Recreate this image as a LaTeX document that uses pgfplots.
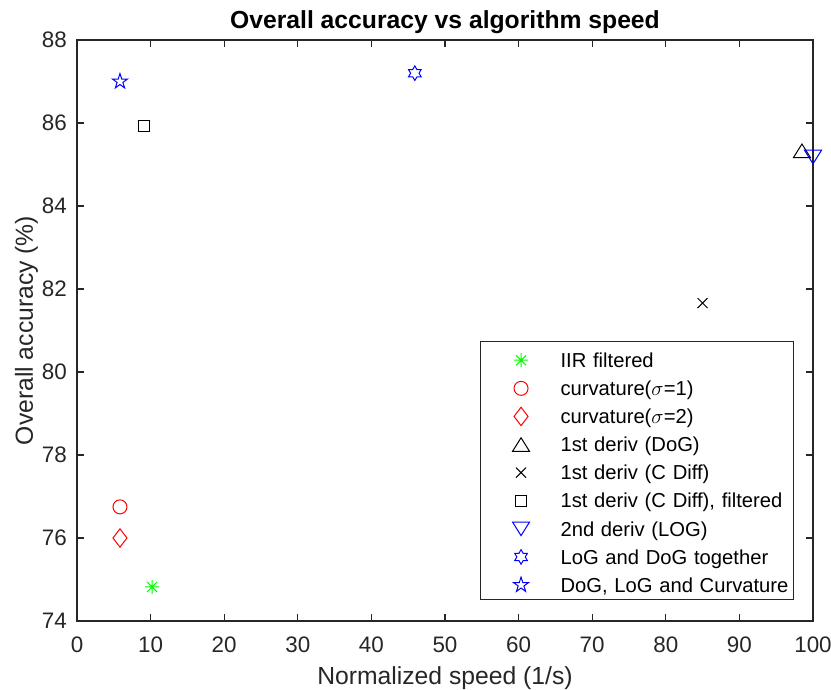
\documentclass[border=0pt]{standalone}
\usepackage{pgfplots}
\pgfplotsset{compat=1.18}
\usepackage{fontspec}
\setmainfont{Liberation Sans}
\definecolor{axgray}{rgb}{0.15,0.15,0.15}
\definecolor{mgreen}{rgb}{0,1,0}
\definecolor{mred}{rgb}{1,0,0}
\definecolor{mblue}{rgb}{0,0,1}

\pgfdeclareplotmark{mast}{%
 \pgfpathmoveto{\pgfqpoint{-7pt}{0pt}}\pgfpathlineto{\pgfqpoint{7pt}{0pt}}%
 \pgfpathmoveto{\pgfqpoint{0pt}{-7pt}}\pgfpathlineto{\pgfqpoint{0pt}{7pt}}%
 \pgfpathmoveto{\pgfqpoint{-4.95pt}{-4.95pt}}\pgfpathlineto{\pgfqpoint{4.95pt}{4.95pt}}%
 \pgfpathmoveto{\pgfqpoint{-4.95pt}{4.95pt}}\pgfpathlineto{\pgfqpoint{4.95pt}{-4.95pt}}%
 \pgfusepathqstroke}
\pgfdeclareplotmark{mcirc}{\pgfpathcircle{\pgfpointorigin}{7pt}\pgfusepathqstroke}
\pgfdeclareplotmark{mdiam}{%
 \pgfpathmoveto{\pgfqpoint{0pt}{9.2pt}}\pgfpathlineto{\pgfqpoint{7pt}{0pt}}%
 \pgfpathlineto{\pgfqpoint{0pt}{-9.2pt}}\pgfpathlineto{\pgfqpoint{-7pt}{0pt}}%
 \pgfpathclose\pgfusepathqstroke}
\pgfdeclareplotmark{mtriu}{%
 \pgfpathmoveto{\pgfqpoint{0pt}{6.8pt}}\pgfpathlineto{\pgfqpoint{8.5pt}{-6.8pt}}%
 \pgfpathlineto{\pgfqpoint{-8.5pt}{-6.8pt}}\pgfpathclose\pgfusepathqstroke}
\pgfdeclareplotmark{mtrid}{%
 \pgfpathmoveto{\pgfqpoint{0pt}{-6.8pt}}\pgfpathlineto{\pgfqpoint{8.5pt}{6.8pt}}%
 \pgfpathlineto{\pgfqpoint{-8.5pt}{6.8pt}}\pgfpathclose\pgfusepathqstroke}
\pgfdeclareplotmark{mx}{%
 \pgfpathmoveto{\pgfqpoint{-5pt}{-5pt}}\pgfpathlineto{\pgfqpoint{5pt}{5pt}}%
 \pgfpathmoveto{\pgfqpoint{-5pt}{5pt}}\pgfpathlineto{\pgfqpoint{5pt}{-5pt}}%
 \pgfusepathqstroke}
\pgfdeclareplotmark{msq}{\pgfpathrectangle{\pgfqpoint{-5.5pt}{-5.5pt}}{\pgfqpoint{11pt}{11pt}}\pgfusepathqstroke}
\pgfdeclareplotmark{mhex}{%
 \pgfpathmoveto{\pgfpointpolar{90}{7.3pt}}%
 \pgfpathlineto{\pgfpointpolar{120}{4.21pt}}\pgfpathlineto{\pgfpointpolar{150}{7.3pt}}%
 \pgfpathlineto{\pgfpointpolar{180}{4.21pt}}\pgfpathlineto{\pgfpointpolar{210}{7.3pt}}%
 \pgfpathlineto{\pgfpointpolar{240}{4.21pt}}\pgfpathlineto{\pgfpointpolar{270}{7.3pt}}%
 \pgfpathlineto{\pgfpointpolar{300}{4.21pt}}\pgfpathlineto{\pgfpointpolar{330}{7.3pt}}%
 \pgfpathlineto{\pgfpointpolar{0}{4.21pt}}\pgfpathlineto{\pgfpointpolar{30}{7.3pt}}%
 \pgfpathlineto{\pgfpointpolar{60}{4.21pt}}%
 \pgfpathclose\pgfusepathqstroke}
\pgfdeclareplotmark{mpent}{%
 \pgfpathmoveto{\pgfpointpolar{90}{7.9pt}}%
 \pgfpathlineto{\pgfpointpolar{126}{3.02pt}}\pgfpathlineto{\pgfpointpolar{162}{7.9pt}}%
 \pgfpathlineto{\pgfpointpolar{198}{3.02pt}}\pgfpathlineto{\pgfpointpolar{234}{7.9pt}}%
 \pgfpathlineto{\pgfpointpolar{270}{3.02pt}}\pgfpathlineto{\pgfpointpolar{306}{7.9pt}}%
 \pgfpathlineto{\pgfpointpolar{342}{3.02pt}}\pgfpathlineto{\pgfpointpolar{18}{7.9pt}}%
 \pgfpathlineto{\pgfpointpolar{54}{3.02pt}}%
 \pgfpathclose\pgfusepathqstroke}

\begin{document}
\begin{tikzpicture}
\begin{axis}[
 scale only axis, width=736pt, height=581pt,
 xmin=0, xmax=100, ymin=74, ymax=88,
 xtick={0,10,...,100}, ytick={74,76,...,88},
 tick align=inside, major tick length=7.4pt,
 axis line style={axgray, line width=1.3pt},
 every tick/.style={axgray, line width=1.1pt},
 tick label style={font=\fontsize{22.4}{26}\selectfont, text=axgray},
 /pgf/number format/assume math mode=true,
 xticklabel style={anchor=north, inner sep=0pt, yshift=-16pt},
 yticklabel style={anchor=east, inner sep=0pt, xshift=-10pt},
 every axis x label/.style={at={(rel axis cs:0.5,0)}, yshift=-64pt, anchor=base, font=\fontsize{24.7}{29}\selectfont, text=axgray},
 every axis y label/.style={at={(rel axis cs:0,0.5)}, xshift=-44pt, rotate=90, anchor=base, font=\fontsize{24.7}{29}\selectfont, text=axgray},
 every axis title/.style={at={(rel axis cs:0.5,1)}, yshift=11pt, anchor=base, font=\bfseries\fontsize{24.7}{29}\selectfont},
 xlabel={Normalized speed (1/s)},
 ylabel={Overall accuracy (\%)},
 title={Overall accuracy vs algorithm speed},
 clip=false,
 legend cell align=left,
 legend style={at={(rel axis cs:1,0)}, anchor=south east, xshift=-19pt, yshift=21pt,
   draw=axgray, line width=0.9pt, fill=white,
   font=\fontsize{20.2}{24}\selectfont,
   inner xsep=0pt, inner ysep=2.5pt, row sep=0pt, column sep=0pt,
   nodes={inner sep=0pt, text height=14.5pt, text depth=0pt, text width=233pt, align=left, anchor=west}},
 mk/.style={only marks, line width=1pt,
   legend image code/.code={\path (-40pt,-11.5pt) (39pt,15.6pt); \draw[##1] plot coordinates {(0pt,0pt)};}},
]
\addplot[mk, color=mgreen, mark=mast] coordinates {(10.2,74.82)};
\addlegendentry{IIR filtered}
\addplot[mk, color=mred, mark=mcirc] coordinates {(5.84,76.75)};
\addlegendentry{curvature($\sigma$=1)}
\addplot[mk, color=mred, mark=mdiam] coordinates {(5.84,76.0)};
\addlegendentry{curvature($\sigma$=2)}
\addplot[mk, color=black, mark=mtriu] coordinates {(98.5,85.33)};
\addlegendentry{1st deriv (DoG)}
\addplot[mk, color=black, mark=mx] coordinates {(85.0,81.66)};
\addlegendentry{1st deriv (C Diff)}
\addplot[mk, color=black, mark=msq] coordinates {(9.1,85.93)};
\addlegendentry{1st deriv (C Diff), filtered}
\addplot[mk, color=mblue, mark=mtrid] coordinates {(100,85.18)};
\addlegendentry{2nd deriv (LOG)}
\addplot[mk, color=mblue, mark=mhex] coordinates {(45.9,87.2)};
\addlegendentry{LoG and DoG together}
\addplot[mk, color=mblue, mark=mpent] coordinates {(5.84,87.0)};
\addlegendentry{DoG, LoG and Curvature}
\end{axis}
\pgfresetboundingbox
\path (current axis.south west) ++(-77pt,-69pt) rectangle ++(831pt,690pt);
\end{tikzpicture}
\end{document}
